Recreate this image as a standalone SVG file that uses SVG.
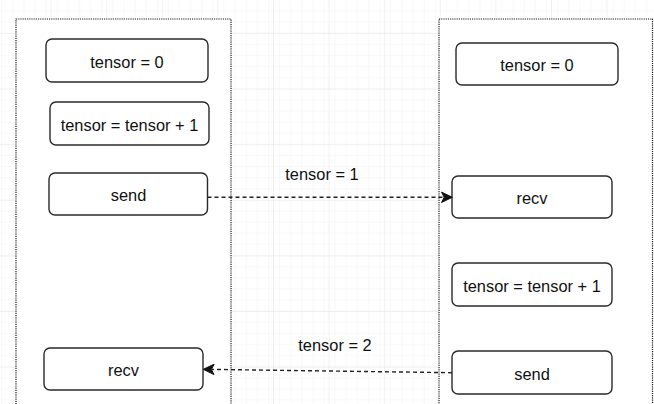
<svg xmlns="http://www.w3.org/2000/svg" width="654" height="404" viewBox="0 0 654 404">
  <style>
    .container { fill: #ffffff; stroke: #1f1f1f; stroke-width: 1.2; stroke-dasharray: 1.2 1; }
    .box { fill: #ffffff; stroke: #2a2a2a; stroke-width: 1.4; }
    .label { font-family: "Liberation Sans", Arial, Helvetica, sans-serif; font-size: 16.4px; fill: #111111; text-anchor: middle; }
    .edge { fill: none; stroke: #222222; stroke-width: 1.4; stroke-dasharray: 4 3; }
    .head { fill: #111111; stroke: #111111; stroke-width: 1; stroke-linejoin: miter; }
  </style>
  <defs>
    <pattern id="minor" x="50.6" y="33" width="11.12" height="11.12" patternUnits="userSpaceOnUse">
      <path d="M 0 0 L 0 11.12 M 0 0 L 11.12 0" fill="none" stroke="#f3f3f3" stroke-width="1"/>
    </pattern>
    <pattern id="major" x="50.6" y="33" width="55.6" height="55.6" patternUnits="userSpaceOnUse">
      <rect width="55.6" height="55.6" fill="url(#minor)"/>
      <path d="M 0 0 L 0 55.6 M 0 0 L 55.6 0" fill="none" stroke="#e4e4e4" stroke-width="1"/>
    </pattern>
  </defs>
  <rect width="654" height="404" fill="#ffffff"/>
  <rect width="654" height="404" fill="url(#major)"/>

  <g id="container-left">
    <rect class="container" x="16" y="19" width="215" height="400"/>
  </g>
  <g id="container-right">
    <rect class="container" x="439" y="19" width="213.5" height="400"/>
  </g>

  <g id="left-init">
    <rect class="box" x="46" y="39" width="162" height="43" rx="6"/>
    <text class="label" x="127" y="67.5">tensor = 0</text>
  </g>
  <g id="left-incr">
    <rect class="box" x="50" y="102" width="159" height="43" rx="6"/>
    <text class="label" x="129.5" y="130.5">tensor = tensor + 1</text>
  </g>
  <g id="left-send">
    <rect class="box" x="49" y="173" width="158.5" height="42" rx="6"/>
    <text class="label" x="128.5" y="201">send</text>
  </g>
  <g id="left-recv">
    <rect class="box" x="44" y="348" width="159" height="42" rx="6"/>
    <text class="label" x="123.5" y="376">recv</text>
  </g>

  <g id="right-init">
    <rect class="box" x="456" y="43" width="162" height="42" rx="6"/>
    <text class="label" x="537" y="71">tensor = 0</text>
  </g>
  <g id="right-recv">
    <rect class="box" x="452" y="176" width="160" height="42" rx="6"/>
    <text class="label" x="532" y="204">recv</text>
  </g>
  <g id="right-incr">
    <rect class="box" x="452" y="263" width="160" height="43" rx="6"/>
    <text class="label" x="532" y="291.5">tensor = tensor + 1</text>
  </g>
  <g id="right-send">
    <rect class="box" x="452" y="351" width="160" height="43" rx="6"/>
    <text class="label" x="532" y="379.5">send</text>
  </g>

  <g id="connectors">
    <path class="edge" d="M 207.5 197.3 L 443 197.3"/>
    <path class="head" d="M 452.3 197.3 L 441.5 202.5 L 444.2 197.3 L 441.5 192.1 Z"/>
    <text class="label" x="322" y="180">tensor = 1</text>

    <path class="edge" d="M 452 372.7 L 212 369.4"/>
    <path class="head" d="M 203.3 369.3 L 214.1 364.2 L 211.4 369.4 L 214 374.6 Z"/>
    <text class="label" x="335" y="350.7">tensor = 2</text>
  </g>
</svg>
